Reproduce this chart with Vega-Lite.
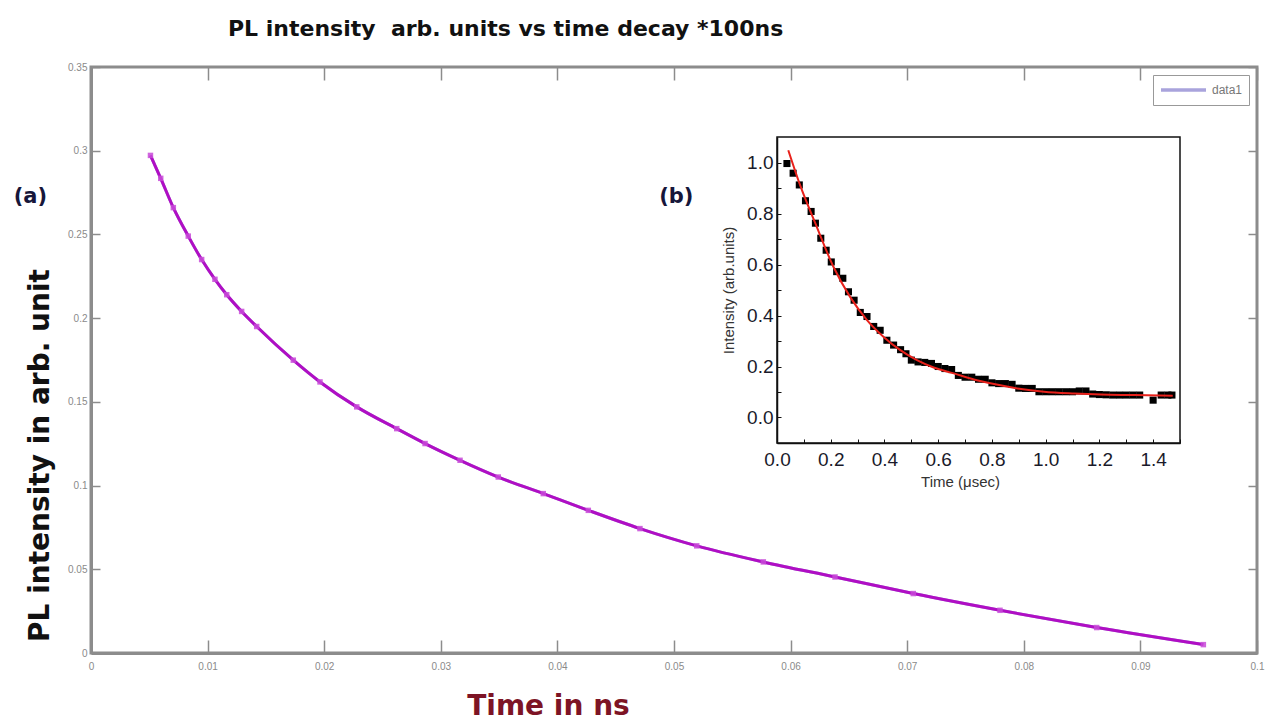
{
  "$schema": "https://vega.github.io/schema/vega-lite/v6.json",
  "width": 1166,
  "height": 586,
  "autosize": {"type": "none"},
  "padding": {"left": 91, "top": 67, "right": 11, "bottom": 70},
  "background": "white",
  "title": {
    "text": "PL intensity \u00a0arb. units vs time decay *100ns",
    "anchor": "start",
    "frame": "group",
    "dx": 137,
    "offset": 21,
    "font": "DejaVu Sans",
    "fontSize": 22,
    "fontWeight": "bold",
    "color": "#111111"
  },
  "datasets": {
    "main": [
      {"t": 0.0051, "I": 0.2972},
      {"t": 0.00598, "I": 0.2835},
      {"t": 0.00706, "I": 0.266},
      {"t": 0.00834, "I": 0.249},
      {"t": 0.00949, "I": 0.235},
      {"t": 0.01063, "I": 0.2232},
      {"t": 0.01164, "I": 0.214},
      {"t": 0.01292, "I": 0.204},
      {"t": 0.01421, "I": 0.195},
      {"t": 0.01735, "I": 0.1749},
      {"t": 0.01964, "I": 0.1619},
      {"t": 0.02279, "I": 0.147},
      {"t": 0.02622, "I": 0.134},
      {"t": 0.02865, "I": 0.1251},
      {"t": 0.03165, "I": 0.1151},
      {"t": 0.03493, "I": 0.1051},
      {"t": 0.03879, "I": 0.0952},
      {"t": 0.04265, "I": 0.0852},
      {"t": 0.04708, "I": 0.0743},
      {"t": 0.05195, "I": 0.064},
      {"t": 0.05766, "I": 0.0544},
      {"t": 0.06381, "I": 0.0454},
      {"t": 0.07052, "I": 0.0355},
      {"t": 0.07796, "I": 0.0255},
      {"t": 0.08625, "I": 0.0152},
      {"t": 0.0954, "I": 0.005}
    ],
    "labels": [
      {"t": -0.0052, "I": 0.2724, "txt": "(a)"},
      {"t": 0.0502, "I": 0.2722, "txt": "(b)"}
    ],
    "inset": [
      {"k": "frame", "t2": 0, "t2e": 1.5, "I2": -0.1, "I2e": 1.1},
      {"k": "obs", "t2": 0.037, "I2": 0.996},
      {"k": "obs", "t2": 0.06, "I2": 0.958},
      {"k": "obs", "t2": 0.083, "I2": 0.912},
      {"k": "obs", "t2": 0.106, "I2": 0.85},
      {"k": "obs", "t2": 0.127, "I2": 0.808},
      {"k": "obs", "t2": 0.143, "I2": 0.762},
      {"k": "obs", "t2": 0.163, "I2": 0.703},
      {"k": "obs", "t2": 0.183, "I2": 0.656},
      {"k": "obs", "t2": 0.202, "I2": 0.61},
      {"k": "obs", "t2": 0.222, "I2": 0.572},
      {"k": "obs", "t2": 0.245, "I2": 0.546},
      {"k": "obs", "t2": 0.266, "I2": 0.493},
      {"k": "obs", "t2": 0.287, "I2": 0.46},
      {"k": "obs", "t2": 0.31, "I2": 0.412},
      {"k": "obs", "t2": 0.335, "I2": 0.396},
      {"k": "obs", "t2": 0.36, "I2": 0.357},
      {"k": "obs", "t2": 0.384, "I2": 0.342},
      {"k": "obs", "t2": 0.409, "I2": 0.303},
      {"k": "obs", "t2": 0.434, "I2": 0.284},
      {"k": "obs", "t2": 0.46, "I2": 0.266},
      {"k": "obs", "t2": 0.48, "I2": 0.25},
      {"k": "obs", "t2": 0.5, "I2": 0.225},
      {"k": "obs", "t2": 0.525, "I2": 0.218},
      {"k": "obs", "t2": 0.55, "I2": 0.216},
      {"k": "obs", "t2": 0.575, "I2": 0.212},
      {"k": "obs", "t2": 0.6, "I2": 0.2},
      {"k": "obs", "t2": 0.625, "I2": 0.192},
      {"k": "obs", "t2": 0.65, "I2": 0.188},
      {"k": "obs", "t2": 0.675, "I2": 0.165},
      {"k": "obs", "t2": 0.7, "I2": 0.158},
      {"k": "obs", "t2": 0.725, "I2": 0.158},
      {"k": "obs", "t2": 0.75, "I2": 0.15},
      {"k": "obs", "t2": 0.775, "I2": 0.15},
      {"k": "obs", "t2": 0.8, "I2": 0.136},
      {"k": "obs", "t2": 0.825, "I2": 0.133},
      {"k": "obs", "t2": 0.85, "I2": 0.133},
      {"k": "obs", "t2": 0.875, "I2": 0.13},
      {"k": "obs", "t2": 0.9, "I2": 0.115},
      {"k": "obs", "t2": 0.925, "I2": 0.114},
      {"k": "obs", "t2": 0.95, "I2": 0.114},
      {"k": "obs", "t2": 0.975, "I2": 0.101},
      {"k": "obs", "t2": 1.0, "I2": 0.101},
      {"k": "obs", "t2": 1.025, "I2": 0.101},
      {"k": "obs", "t2": 1.05, "I2": 0.101},
      {"k": "obs", "t2": 1.075, "I2": 0.101},
      {"k": "obs", "t2": 1.1, "I2": 0.101},
      {"k": "obs", "t2": 1.125, "I2": 0.104},
      {"k": "obs", "t2": 1.15, "I2": 0.104},
      {"k": "obs", "t2": 1.175, "I2": 0.092},
      {"k": "obs", "t2": 1.2, "I2": 0.09},
      {"k": "obs", "t2": 1.225, "I2": 0.089},
      {"k": "obs", "t2": 1.25, "I2": 0.088},
      {"k": "obs", "t2": 1.275, "I2": 0.088},
      {"k": "obs", "t2": 1.3, "I2": 0.088},
      {"k": "obs", "t2": 1.325, "I2": 0.088},
      {"k": "obs", "t2": 1.35, "I2": 0.088},
      {"k": "obs", "t2": 1.4, "I2": 0.068},
      {"k": "obs", "t2": 1.43, "I2": 0.088},
      {"k": "obs", "t2": 1.455, "I2": 0.088},
      {"k": "obs", "t2": 1.47, "I2": 0.088},
      {"k": "fit", "t2": 0.042, "I2": 1.048},
      {"k": "fit", "t2": 0.086, "I2": 0.911},
      {"k": "fit", "t2": 0.148, "I2": 0.748},
      {"k": "fit", "t2": 0.21, "I2": 0.591},
      {"k": "fit", "t2": 0.272, "I2": 0.473},
      {"k": "fit", "t2": 0.335, "I2": 0.382},
      {"k": "fit", "t2": 0.397, "I2": 0.316},
      {"k": "fit", "t2": 0.459, "I2": 0.264},
      {"k": "fit", "t2": 0.521, "I2": 0.225},
      {"k": "fit", "t2": 0.583, "I2": 0.196},
      {"k": "fit", "t2": 0.658, "I2": 0.173},
      {"k": "fit", "t2": 0.733, "I2": 0.149},
      {"k": "fit", "t2": 0.808, "I2": 0.131},
      {"k": "fit", "t2": 0.895, "I2": 0.114},
      {"k": "fit", "t2": 0.994, "I2": 0.101},
      {"k": "fit", "t2": 1.106, "I2": 0.094},
      {"k": "fit", "t2": 1.206, "I2": 0.09},
      {"k": "fit", "t2": 1.33, "I2": 0.088},
      {"k": "fit", "t2": 1.473, "I2": 0.085}
    ]
  },
  "layer": [
    {
      "layer": [
        {
          "data": {"name": "main"},
          "mark": {"type": "line", "strokeWidth": 3, "interpolate": "monotone"},
          "encoding": {
            "x": {
              "field": "t", "type": "quantitative",
              "scale": {"domain": [0, 0.1], "nice": false, "zero": false},
              "axis": {
                "orient": "bottom",
                "values": [0, 0.01, 0.02, 0.03, 0.04, 0.05, 0.06, 0.07, 0.08, 0.09, 0.1],
                "format": "~g",
                "grid": false,
                "tickSize": -13, "tickWidth": 1.5, "tickColor": "#8c8c8c",
                "domainColor": "#8c8c8c", "domainWidth": 3,
                "labelColor": "#8a8a8a", "labelFont": "Liberation Sans", "labelFontSize": 10,
                "labelPadding": 21, "labelFlush": false, "labelOverlap": false,
                "title": "Time in ns",
                "titleFont": "DejaVu Sans", "titleFontSize": 28, "titleFontWeight": "bold", "titleColor": "#7d1425",
                "titleX": 457, "titleY": 53, "titleBaseline": "middle", "titleAlign": "center"
              }
            },
            "y": {
              "field": "I", "type": "quantitative",
              "scale": {"domain": [0, 0.35], "nice": false, "zero": false},
              "axis": {
                "orient": "left",
                "values": [0, 0.05, 0.1, 0.15, 0.2, 0.25, 0.3, 0.35],
                "format": "~g",
                "grid": false,
                "tickSize": -9, "tickWidth": 1.5, "tickColor": "#8c8c8c",
                "domainColor": "#8c8c8c", "domainWidth": 3,
                "labelColor": "#8a8a8a", "labelFont": "Liberation Sans", "labelFontSize": 10,
                "labelPadding": 13, "labelOverlap": false,
                "title": "PL intensity in arb. unit",
                "titleFont": "DejaVu Sans", "titleFontSize": 28, "titleFontWeight": "bold", "titleColor": "#111111",
                "titleX": -51, "titleY": 388, "titleBaseline": "middle", "titleAlign": "center", "titleAngle": -90
              }
            },
            "color": {
              "datum": "data1",
              "type": "nominal",
              "scale": {"domain": ["data1"], "range": ["#a9a3dc"]},
              "legend": {
                "title": null,
                "orient": "top-right",
                "offset": 8,
                "symbolType": "stroke",
                "symbolSize": 2025,
                "symbolStrokeWidth": 3.5,
                "clipHeight": 18,
                "labelFont": "Liberation Sans",
                "labelFontSize": 12,
                "labelColor": "#777777",
                "padding": 6,
                "strokeColor": "#999999",
                "fillColor": "white"
              }
            }
          }
        },
        {
          "data": {"name": "main"},
          "mark": {"type": "line", "color": "#b00ec4", "strokeWidth": 3, "interpolate": "monotone"},
          "encoding": {
            "x": {"field": "t", "type": "quantitative", "scale": {"domain": [0, 0.1], "nice": false, "zero": false}, "axis": null},
            "y": {"field": "I", "type": "quantitative", "scale": {"domain": [0, 0.35], "nice": false, "zero": false}, "axis": null}
          }
        },
        {
          "data": {"name": "main"},
          "mark": {"type": "square", "color": "#c84ad8", "size": 30, "opacity": 0.85},
          "encoding": {
            "x": {
              "field": "t", "type": "quantitative",
              "scale": {"domain": [0, 0.1], "nice": false, "zero": false},
              "axis": {
                "orient": "top",
                "values": [0, 0.01, 0.02, 0.03, 0.04, 0.05, 0.06, 0.07, 0.08, 0.09, 0.1],
                "labels": false, "domain": false, "grid": false, "title": null,
                "tickSize": -13, "tickWidth": 1.5, "tickColor": "#8c8c8c"
              }
            },
            "y": {
              "field": "I", "type": "quantitative",
              "scale": {"domain": [0, 0.35], "nice": false, "zero": false},
              "axis": {
                "orient": "right",
                "values": [0, 0.05, 0.1, 0.15, 0.2, 0.25, 0.3, 0.35],
                "labels": false, "domain": false, "grid": false, "title": null,
                "tickSize": -9, "tickWidth": 1.5, "tickColor": "#8c8c8c"
              }
            }
          }
        },
        {
          "data": {"name": "labels"},
          "mark": {"type": "text", "font": "DejaVu Sans", "fontSize": 21, "fontWeight": "bold", "color": "#16163a", "align": "center", "baseline": "middle"},
          "encoding": {
            "x": {"field": "t", "type": "quantitative", "scale": {"domain": [0, 0.1], "nice": false, "zero": false}, "axis": null},
            "y": {"field": "I", "type": "quantitative", "scale": {"domain": [0, 0.35], "nice": false, "zero": false}, "axis": null},
            "text": {"field": "txt"}
          }
        }
      ],
      "resolve": {"axis": {"x": "independent", "y": "independent"}}
    },
    {
      "data": {"name": "inset"},
      "encoding": {
        "x": {
          "field": "t2", "type": "quantitative",
          "scale": {"domain": [0, 1.5], "range": [686, 1089], "nice": false, "zero": false},
          "axis": {
            "orient": "bottom", "offset": -210,
            "values": [0, 0.1, 0.2, 0.3, 0.4, 0.5, 0.6, 0.7, 0.8, 0.9, 1.0, 1.1, 1.2, 1.3, 1.4, 1.5],
            "labelExpr": "round(datum.value*10) % 2 == 0 && datum.value < 1.45 ? format(datum.value, '.1f') : ''",
            "grid": false,
            "tickSize": -4, "tickWidth": 1, "tickColor": "#111111",
            "domainColor": "#111111", "domainWidth": 1.5,
            "labelColor": "#1a1a2a", "labelFont": "Liberation Sans", "labelFontSize": 19,
            "labelPadding": 11, "labelFlush": false, "labelOverlap": false,
            "title": "Time (\u03bcsec)",
            "titleFont": "Liberation Sans", "titleFontSize": 15, "titleFontWeight": "normal", "titleColor": "#333333",
            "titlePadding": 5, "titleX": 869
          }
        },
        "y": {
          "field": "I2", "type": "quantitative",
          "scale": {"domain": [-0.1, 1.1], "range": [376, 70], "nice": false, "zero": false},
          "axis": {
            "orient": "left", "offset": -686,
            "values": [0, 0.1, 0.2, 0.3, 0.4, 0.5, 0.6, 0.7, 0.8, 0.9, 1.0],
            "labelExpr": "round(datum.value*10) % 2 == 0 ? format(datum.value, '.1f') : ''",
            "grid": false,
            "tickSize": -4, "tickWidth": 1, "tickColor": "#111111",
            "domainColor": "#111111", "domainWidth": 1.5,
            "labelColor": "#1a1a2a", "labelFont": "Liberation Sans", "labelFontSize": 19,
            "labelPadding": 8, "labelOverlap": false,
            "title": "Intensity (arb.units)",
            "titleFont": "Liberation Sans", "titleFontSize": 15, "titleFontWeight": "normal", "titleColor": "#333333",
            "titlePadding": 10
          }
        }
      },
      "layer": [
        {
          "transform": [{"filter": "datum.k == 'frame'"}],
          "mark": {"type": "rect", "filled": false, "stroke": "#111111", "strokeWidth": 1.5},
          "encoding": {
            "x2": {"field": "t2e"},
            "y2": {"field": "I2e"}
          }
        },
        {
          "transform": [{"filter": "datum.k == 'obs'"}],
          "mark": {"type": "square", "color": "#000000", "size": 50, "opacity": 1}
        },
        {
          "transform": [{"filter": "datum.k == 'fit'"}],
          "mark": {"type": "line", "color": "#e8211b", "strokeWidth": 2, "interpolate": "monotone"}
        }
      ]
    }
  ],
  "resolve": {"scale": {"x": "independent", "y": "independent"}},
  "config": {
    "view": {"stroke": "#8c8c8c", "strokeWidth": 3}
  }
}
